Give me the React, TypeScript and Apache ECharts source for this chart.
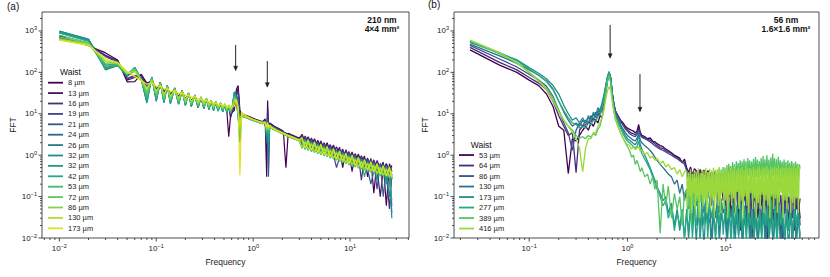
import React, { useEffect, useRef } from 'react';
import * as echarts from 'echarts';

const FONT = 'Liberation Sans, Arial, Helvetica, sans-serif';

// ---------- Panel (a) ----------
const FREQ_A = [
  0.01, 0.02, 0.03, 0.04, 0.05, 0.06, 0.07, 0.08, 0.09, 0.1, 0.11, 0.12, 0.13, 0.14, 0.155, 0.17, 0.185, 0.2, 0.215, 0.23,
  0.25, 0.27, 0.29, 0.31, 0.33, 0.35, 0.37, 0.39, 0.41, 0.435, 0.46, 0.485, 0.51, 0.535, 0.56, 0.585, 0.61,
  0.64, 0.67, 0.7, 0.73, 0.76, 0.8, 0.86, 0.93, 1.0, 1.08, 1.17, 1.26, 1.33, 1.38, 1.41, 1.44, 1.48, 1.55,
  1.65, 1.77, 1.9, 2.05, 2.18, 2.3, 2.5, 2.75, 3.0,
  3.2, 3.45, 3.7, 4.0, 4.3, 4.65, 5.0, 5.4, 5.8, 6.25, 6.75, 7.25, 7.8, 8.4, 9.05, 9.75, 10.5, 11.3, 12.2, 13.1,
  14.1, 15.2, 16.4, 17.6, 19, 20.5, 22, 23.7, 25.5, 27,
];

const A_8 = [760, 440, 295, 200, 59, 60, 90, 55, 62, 40, 50, 34, 42, 30, 36, 26, 32, 23, 28, 21, 25, 19, 22, 17, 20, 16, 18.5, 15, 17, 14, 16, 13, 15, 12, 2.8, 9, 11,
  12, 38, 48, 12, 10, 9.5, 9, 8.4, 7.8, 7.2, 6.8, 6.5, 7.5, 0.3, 21, 4, 6, 5.6, 5, 4.6, 4.2, 3.8, 0.5, 3.4, 3.1, 2.8, 2.6,
  3.2, 2.0, 2.8, 1.75, 2.5, 1.55, 2.2, 1.37, 2.0, 1.2, 1.75, 1.07, 1.55, 0.5, 1.35, 0.84, 1.2, 0.74, 1.06, 0.66, 0.95, 0.3, 0.84, 0.12, 0.75, 0.47, 0.68, 0.06, 0.62, 0.39];
const A_13 = [700, 460, 260, 190, 65, 75, 85, 50, 66, 38, 52, 33, 44, 29, 38, 26, 33, 22, 29, 20, 26, 18, 23, 17, 21, 15.5, 19, 14.5, 18, 13.5, 17, 13, 16, 12, 14, 8, 12,
  14, 32, 40, 10, 10, 9.2, 8.8, 8.2, 7.6, 7.1, 6.7, 6.4, 7, 2, 14, 3, 5.8, 5.4, 4.9, 4.5, 4.1, 3.7, 3.4, 3.3, 3.0, 2.7, 2.5,
  2.1, 2.9, 1.86, 2.6, 1.65, 2.3, 1.45, 2.0, 1.3, 1.8, 1.14, 1.6, 1.0, 1.4, 0.88, 1.23, 0.4, 1.1, 0.69, 0.97, 0.62, 0.85, 0.55, 0.77, 0.49, 0.1, 0.45, 0.63, 0.41, 0.57];
const A_16 = [650, 470, 250, 180, 70, 80, 80, 48, 68, 36, 54, 32, 45, 28, 39, 25, 34, 21, 30, 19.5, 27, 18, 24, 16.5, 22, 15.5, 20, 14.5, 18.5, 13.5, 17.5, 13, 16.5, 12.5, 15, 10, 12,
  15, 30, 35, 9, 10, 9, 8.6, 8, 7.5, 7, 6.6, 6.3, 6.8, 2.5, 11, 3.5, 5.6, 5.2, 4.8, 4.4, 4.0, 3.6, 3.3, 3.2, 2.9, 2.65, 2.45,
  3.0, 1.77, 2.65, 1.56, 2.35, 1.39, 2.05, 1.22, 1.84, 1.09, 1.62, 0.96, 1.43, 0.84, 1.26, 0.75, 1.12, 0.66, 0.99, 0.25, 0.88, 0.52, 0.78, 0.47, 0.7, 0.42, 0.63, 0.38, 0.05, 0.35];
const A_19 = [620, 460, 240, 175, 72, 85, 78, 45, 70, 34, 55, 31, 46, 27, 40, 24, 35, 20.5, 30, 19, 27, 17.5, 24, 16, 22, 15, 20, 14, 18.5, 13, 17.5, 12.5, 16.5, 12, 15.5, 10.5, 13,
  17, 30, 30, 8, 9.8, 9, 8.5, 8, 7.4, 6.9, 6.5, 6.2, 6.6, 2.8, 9, 2, 5.5, 5.1, 4.7, 4.3, 3.9, 3.6, 3.3, 3.1, 2.85, 2.6, 2.4,
  1.87, 2.7, 1.67, 2.4, 1.48, 2.1, 1.3, 1.87, 1.16, 1.66, 1.02, 0.5, 0.9, 1.29, 0.79, 1.14, 0.71, 1.01, 0.62, 0.9, 0.55, 0.79, 0.49, 0.72, 0.15, 0.64, 0.4, 0.58, 0.37, 0.53];
const A_21 = [900, 600, 150, 160, 80, 110, 72, 30, 72, 28, 56, 26, 47, 24, 41, 22, 35, 19, 31, 18, 28, 16.5, 25, 15.5, 23, 14.5, 21, 13.5, 19, 13, 18, 12, 17, 11.5, 16, 11, 14,
  22, 28, 22, 6, 9.5, 8.8, 8.4, 7.8, 7.3, 6.8, 6.4, 6.1, 6.5, 3, 7, 0.5, 5.4, 5, 4.6, 4.2, 3.8, 3.5, 3.2, 3.05, 2.8, 2.55, 2.35,
  2.75, 1.56, 2.45, 1.38, 2.2, 1.22, 1.9, 1.08, 1.7, 0.96, 1.5, 0.85, 1.33, 0.74, 1.16, 0.66, 1.04, 0.58, 0.91, 0.52, 0.81, 0.46, 0.2, 0.41, 0.65, 0.37, 0.59, 0.34, 0.54, 0.04];
const A_24 = [950, 620, 130, 155, 82, 120, 70, 25, 74, 25, 57, 23, 47, 21, 41, 19.5, 36, 17.5, 31, 16.5, 28, 15.5, 25.5, 14.5, 23, 13.5, 21, 13, 19.5, 12.5, 18, 11.5, 17, 11, 16, 10.5, 14.5,
  28, 27, 16, 4, 9.5, 8.7, 8.3, 7.7, 7.2, 6.7, 6.3, 6.0, 6.4, 2, 6.5, 0.3, 5.2, 4.9, 4.5, 4.1, 3.7, 3.4, 3.2, 3.0, 2.75, 2.5, 2.3,
  1.76, 2.5, 1.57, 2.2, 1.39, 1.96, 1.22, 1.73, 1.09, 1.54, 0.96, 1.36, 0.85, 1.19, 0.74, 1.06, 0.66, 0.94, 0.58, 0.83, 0.52, 0.73, 0.46, 0.66, 0.42, 0.59, 0.1, 0.54, 0.34, 0.06];
const A_26 = [1000, 640, 115, 150, 85, 130, 70, 20, 78, 20, 58, 19, 48, 18, 42, 17.4, 36, 16, 32, 15, 28, 14, 25, 13.3, 23, 12.6, 21, 12.2, 19.5, 11.8, 18.3, 11.3, 17, 10.8, 16, 10.4, 15,
  34, 25, 10, 2.5, 9, 8.6, 8.2, 7.6, 7.1, 6.6, 6.2, 6.0, 6.3, 2.5, 6, 1, 5.2, 4.8, 4.4, 4, 3.7, 3.4, 3.1, 2.95, 2.7, 2.5, 2.3,
  2.65, 1.46, 2.35, 1.29, 2.1, 1.14, 1.84, 1.0, 1.63, 0.9, 1.44, 0.79, 1.27, 0.69, 1.12, 0.62, 1.0, 0.55, 0.88, 0.48, 0.78, 0.43, 0.7, 0.39, 0.62, 0.34, 0.56, 0.32, 0.1, 0.29];
const A_32A = [980, 620, 118, 145, 84, 128, 68, 19, 76, 21, 57, 18.5, 48, 17.5, 42, 17, 36, 16, 31, 15, 28, 14, 25, 13.3, 23, 12.6, 21, 12, 19.5, 11.6, 18, 11.2, 17, 10.7, 16, 10.2, 15,
  33, 24, 9, 2, 9, 8.5, 8.1, 7.5, 7, 6.6, 6.2, 5.9, 6.2, 2.8, 5.8, 1.5, 5.1, 4.7, 4.3, 3.95, 3.65, 3.35, 3.1, 2.9, 2.65, 2.45, 2.25,
  1.58, 2.4, 1.41, 2.1, 1.25, 1.87, 1.1, 1.66, 0.98, 1.47, 0.86, 1.3, 0.76, 1.14, 0.67, 1.01, 0.6, 0.9, 0.53, 0.79, 0.47, 0.7, 0.42, 0.63, 0.25, 0.56, 0.34, 0.52, 0.31, 0.03];
const A_32B = [960, 600, 120, 148, 86, 132, 68, 18, 77, 21, 58, 18.5, 49, 17.5, 42, 17, 37, 16, 32, 15, 29, 14, 25.5, 13.3, 23.5, 12.6, 21.5, 12, 20, 11.6, 18.5, 11.2, 17.5, 10.7, 16.5, 10.2, 15.5,
  33, 22, 8, 2.5, 9, 8.4, 8, 7.4, 6.9, 6.5, 6.1, 5.9, 6.1, 3, 5.6, 2, 5, 4.6, 4.2, 3.9, 3.6, 3.3, 3.05, 2.9, 2.65, 2.45, 2.25,
  2.4, 1.41, 2.15, 1.25, 1.91, 1.11, 1.68, 0.98, 1.5, 0.87, 1.32, 0.77, 1.17, 0.67, 1.02, 0.6, 0.91, 0.53, 0.8, 0.47, 0.72, 0.41, 0.64, 0.37, 0.57, 0.33, 0.52, 0.2, 0.47, 0.28];
const A_42 = [900, 560, 125, 150, 88, 128, 66, 22, 76, 23, 57, 20, 48, 19, 41, 18, 36, 17, 31, 16, 28, 15, 25, 14, 23, 13, 21, 12.5, 19.5, 12, 18, 11.5, 17, 11, 16, 10.5, 15,
  30, 22, 9, 3, 9, 8.3, 7.9, 7.3, 6.8, 6.4, 6.0, 5.8, 6, 3.5, 5.5, 3, 4.9, 4.5, 4.1, 3.8, 3.5, 3.2, 3.0, 2.85, 2.6, 2.4, 2.2,
  1.5, 2.3, 1.33, 2.0, 1.18, 1.79, 1.04, 1.58, 0.92, 1.41, 0.82, 1.24, 0.72, 1.09, 0.63, 0.97, 0.56, 0.86, 0.5, 0.76, 0.3, 0.67, 0.39, 0.6, 0.35, 0.54, 0.32, 0.5, 0.29, 0.08];
const A_53 = [800, 520, 140, 155, 90, 125, 66, 25, 74, 25, 56, 21, 47, 20, 41, 19, 36, 17.5, 31, 16.5, 28, 15.5, 25, 14.5, 23, 13.5, 21, 13, 19.5, 12.5, 18, 12, 17, 11.5, 16, 11, 15,
  26, 22, 10, 3.5, 9.2, 8.4, 8, 7.4, 6.9, 6.5, 6.1, 5.8, 6, 3.8, 5.4, 3.5, 4.8, 4.5, 4.1, 3.8, 3.5, 3.2, 3.0, 2.85, 2.6, 2.4, 2.2,
  2.3, 1.37, 2.05, 1.21, 1.83, 1.08, 1.6, 0.95, 1.43, 0.84, 1.26, 0.75, 1.11, 0.65, 0.98, 0.58, 0.87, 0.51, 0.77, 0.46, 0.68, 0.4, 0.61, 0.36, 0.55, 0.32, 0.49, 0.3, 0.45, 0.27];
const A_72 = [720, 500, 160, 160, 92, 118, 66, 30, 70, 28, 54, 23, 46, 22, 40, 20, 35, 18.5, 31, 17.5, 28, 16.5, 25, 15.5, 23, 14.5, 21, 14, 19.5, 13.5, 18, 13, 17, 12.5, 16, 12, 15,
  24, 22, 11, 4, 9.5, 8.5, 8.1, 7.5, 7, 6.5, 6.1, 5.8, 6, 4, 5.4, 4, 4.8, 4.5, 4.1, 3.8, 3.5, 3.2, 3.0, 2.85, 2.6, 2.4, 2.2,
  1.45, 2.18, 1.29, 1.93, 1.15, 1.71, 1.01, 1.51, 0.9, 1.34, 0.79, 1.19, 0.7, 1.04, 0.61, 0.92, 0.55, 0.82, 0.48, 0.72, 0.43, 0.64, 0.38, 0.58, 0.34, 0.51, 0.31, 0.47, 0.28, 0.43];
const A_86 = [650, 480, 180, 165, 94, 110, 65, 36, 66, 32, 52, 26, 44, 24, 39, 22, 34, 20, 30, 18.5, 27, 17.5, 24.5, 16.5, 22.5, 15.5, 20.5, 15, 19, 14.3, 18, 13.8, 17, 13.2, 16, 12.7, 15,
  22, 22, 12, 4.5, 9.6, 8.6, 8.2, 7.6, 7.1, 6.6, 6.2, 5.9, 6.1, 4.2, 5.4, 4.2, 4.9, 4.5, 4.1, 3.8, 3.5, 3.25, 3.05, 2.9, 2.65, 2.42, 2.22,
  2.2, 1.46, 1.96, 1.29, 1.74, 1.14, 1.53, 1.01, 1.36, 0.9, 1.2, 0.79, 1.06, 0.69, 0.93, 0.62, 0.83, 0.55, 0.73, 0.48, 0.65, 0.43, 0.58, 0.39, 0.52, 0.34, 0.47, 0.32, 0.43, 0.29];
const A_130 = [620, 470, 190, 168, 96, 104, 65, 42, 63, 36, 50, 30, 42, 27, 37, 24, 32, 22, 29, 20, 26, 18.5, 23.5, 17.5, 21.5, 16.5, 20, 15.5, 18.5, 14.8, 17.5, 14.2, 16.5, 13.6, 15.5, 13, 14.5,
  20, 22, 13, 5, 9.8, 8.7, 8.3, 7.7, 7.2, 6.7, 6.3, 6.0, 6.2, 4.5, 5.5, 4.5, 5.0, 4.6, 4.2, 3.85, 3.55, 3.3, 3.1, 2.92, 2.7, 2.45, 2.25,
  1.58, 2.08, 1.41, 1.84, 1.25, 1.63, 1.1, 1.44, 0.98, 1.28, 0.86, 1.13, 0.76, 0.99, 0.67, 0.88, 0.6, 0.78, 0.53, 0.69, 0.47, 0.61, 0.42, 0.55, 0.37, 0.49, 0.34, 0.45, 0.31, 0.41];
const A_173 = [600, 450, 210, 175, 105, 80, 64, 52, 56, 46, 47, 40, 41, 35, 36, 31, 32, 28, 28.5, 25, 26, 23, 23.5, 21, 21.5, 19.5, 20, 18, 18.5, 17, 17.5, 16, 16.5, 15.2, 15.5, 14.5, 14.8,
  15, 22, 15, 0.33, 11, 9.5, 8.8, 8.0, 7.4, 6.9, 6.5, 6.2, 6.4, 4.8, 6.2, 4.8, 5.3, 4.8, 4.4, 4.0, 3.7, 3.4, 3.2, 3.0, 2.8, 2.55, 2.35,
  2.65, 1.5, 2.35, 1.32, 2.1, 1.17, 1.84, 1.04, 1.63, 0.92, 1.44, 0.81, 1.27, 0.71, 1.12, 0.63, 1.0, 0.56, 0.88, 0.5, 0.78, 0.44, 0.7, 0.4, 0.62, 0.35, 0.56, 0.32, 0.52, 0.3];

const A_VALUES = [A_8, A_13, A_16, A_19, A_21, A_24, A_26, A_32A, A_32B, A_42, A_53, A_72, A_86, A_130, A_173];
const A_LABELS = ['8 µm', '13 µm', '16 µm', '19 µm', '21 µm', '24 µm', '26 µm', '32 µm', '32 µm', '42 µm', '53 µm', '72 µm', '86 µm', '130 µm', '173 µm'];
const A_COLORS = ['#440154', '#471365', '#46307c', '#404588', '#39578c', '#33638d', '#297a8e', '#238b8c', '#219b88', '#25ab82', '#3fbc73', '#5ec962', '#84d44b', '#b0dd2f', '#dde318'];

// ---------- Panel (b) ----------
const FREQ_B_LOWMID = [
  0.025, 0.05, 0.075, 0.1, 0.125, 0.15, 0.175, 0.2, 0.225, 0.25, 0.275, 0.3, 0.325, 0.35, 0.375, 0.4, 0.425, 0.45, 0.475, 0.5,
  0.525, 0.55, 0.575, 0.6, 0.625, 0.65, 0.675, 0.7, 0.725, 0.75, 0.8, 0.85, 0.9, 0.95, 1.0,
  1.05, 1.1, 1.15, 1.2, 1.25, 1.3, 1.35, 1.4, 1.5, 1.6, 1.7, 1.8, 1.9, 2.0, 2.15, 2.3, 2.45, 2.6, 2.8, 3.0, 3.2, 3.4, 3.6, 3.8,
];
const FREQ_B_HIGH = [
  4.0, 4.18, 4.38, 4.58, 4.79, 5.01, 5.24, 5.48, 5.73, 6.0, 6.27, 6.56, 6.87, 7.18, 7.51, 7.86, 8.22, 8.6, 9.0, 9.41,
  9.85, 10.3, 10.8, 11.3, 11.8, 12.3, 12.9, 13.5, 14.1, 14.8, 15.4, 16.2, 16.9, 17.7, 18.5, 19.4, 20.2, 21.2, 22.2, 23.2,
  24.2, 25.3, 26.5, 27.7, 29.0, 30.3, 31.7, 33.2, 34.7, 36.3, 38.0, 39.7, 41.6, 43.5, 45.5, 47.6, 49.8, 52.1, 54.5, 57.0,
];
const FREQ_B_HIGH_FINE = [
  4.0, 4.09, 4.18, 4.28, 4.38, 4.48, 4.58, 4.68, 4.79, 4.9, 5.01, 5.12, 5.24, 5.36, 5.48, 5.6, 5.73, 5.86, 5.99, 6.13,
  6.27, 6.41, 6.55, 6.7, 6.85, 7.01, 7.17, 7.33, 7.49, 7.66, 7.84, 8.01, 8.19, 8.38, 8.57, 8.76, 8.96, 9.16, 9.37, 9.58,
  9.8, 10.0, 10.25, 10.48, 10.72, 10.96, 11.2, 11.46, 11.72, 11.98, 12.25, 12.53, 12.81, 13.1, 13.4, 13.7, 14.0, 14.33, 14.65, 14.98,
  15.32, 15.67, 16.02, 16.38, 16.75, 17.13, 17.52, 17.91, 18.32, 18.73, 19.15, 19.59, 20.03, 20.48, 20.94, 21.42, 21.9, 22.4, 22.9, 23.42,
  23.95, 24.49, 25.04, 25.61, 26.19, 26.78, 27.38, 28.0, 28.64, 29.28, 29.95, 30.62, 31.31, 32.02, 32.74, 33.48, 34.24, 35.01, 35.8, 36.61,
  37.44, 38.28, 39.15, 40.03, 40.94, 41.86, 42.8, 43.77, 44.76, 45.77, 46.8, 47.86, 48.94, 50.05, 51.18, 52.33, 53.51, 54.72, 55.96, 57.0,
];
const FREQ_B = [...FREQ_B_LOWMID, ...FREQ_B_HIGH];
const FREQ_B_DENSE = [...FREQ_B_LOWMID, ...FREQ_B_HIGH_FINE];

const B_53 = [350, 150, 100, 65, 48, 30, 15, 5, 4, 0.36, 2.5, 2.2, 3, 4, 5, 4, 6, 5, 7, 6, 9, 8, 14, 30, 60, 95, 70, 30, 18, 12, 9, 7, 6, 5, 4.5,
  4.2, 4, 3.8, 3.5, 3.8, 5.5, 3.5, 3.0, 2.8, 2.5, 2.6, 2.2, 2.1, 1.9, 1.7, 1.6, 1.4, 1.3, 1.15, 1.0, 0.92, 0.85, 0.65, 0.8,
  0.5, 0.38, 0.52, 0.3, 0.47, 0.42, 0.25, 0.45, 0.36, 0.44, 0.3, 0.42, 0.38, 0.2, 0.4, 0.33, 0.12, 0.36,
  0.28, 0.08, 0.3, 0.15, 0.26, 0.04, 0.25, 0.12, 0.22, 0.02, 0.2, 0.1, 0.24, 0.05, 0.18, 0.012, 0.2, 0.08, 0.16, 0.03, 0.18, 0.06, 0.15, 0.008, 0.14, 0.05, 0.16, 0.02, 0.13, 0.07, 0.15, 0.01, 0.12, 0.04, 0.14, 0.02, 0.11, 0.006, 0.12, 0.05, 0.1, 0.03];
const B_64 = [400, 175, 115, 75, 55, 38, 20, 9, 5, 3, 3.5, 0.38, 4, 5, 5.5, 6, 6.5, 7.5, 7, 9, 10, 12, 17, 36, 66, 98, 72, 32, 18, 12, 8.5, 6.5, 5.5, 4.6, 4,
  3.7, 3.4, 3.3, 3.1, 3.5, 4.5, 3.2, 2.9, 2.6, 2.4, 2.3, 2.1, 1.9, 1.7, 1.5, 1.45, 1.3, 1.2, 1.1, 0.95, 0.88, 0.78, 0.7, 0.68,
  0.45, 0.3, 0.48, 0.35, 0.25, 0.42, 0.32, 0.44, 0.2, 0.4, 0.3, 0.38, 0.15, 0.36, 0.27, 0.34, 0.08, 0.32,
  0.2, 0.3, 0.05, 0.26, 0.14, 0.24, 0.03, 0.22, 0.1, 0.2, 0.015, 0.2, 0.08, 0.17, 0.04, 0.18, 0.01, 0.16, 0.06, 0.15, 0.025, 0.16, 0.07, 0.13, 0.006, 0.14, 0.04, 0.12, 0.02, 0.13, 0.05, 0.11, 0.008, 0.12, 0.03, 0.1, 0.05, 0.11, 0.015, 0.1, 0.04, 0.09];
const B_86 = [450, 210, 135, 90, 65, 46, 26, 12, 6, 3.5, 1.3, 4, 6, 5, 7, 6, 9, 7, 11, 9, 13, 15, 22, 42, 72, 100, 74, 32, 18, 12, 8.5, 6.5, 5.3, 4.3, 3.8,
  3.3, 3.1, 2.9, 2.8, 3.2, 4, 3.0, 2.7, 2.5, 2.3, 2.1, 1.9, 1.7, 1.55, 1.4, 1.3, 1.2, 1.1, 1.0, 0.9, 0.82, 0.74, 0.68, 0.6,
  0.42, 0.25, 0.4, 0.2, 0.38, 0.3, 0.15, 0.35, 0.28, 0.1, 0.33, 0.22, 0.3, 0.06, 0.28, 0.18, 0.26, 0.04,
  0.24, 0.12, 0.22, 0.02, 0.2, 0.1, 0.18, 0.04, 0.19, 0.012, 0.16, 0.08, 0.17, 0.03, 0.15, 0.06, 0.14, 0.008, 0.15, 0.05, 0.13, 0.02, 0.14, 0.06, 0.12, 0.01, 0.13, 0.04, 0.11, 0.02, 0.12, 0.005, 0.1, 0.04, 0.11, 0.015, 0.1, 0.03, 0.09, 0.006, 0.1, 0.02];
const B_130 = [480, 250, 165, 115, 85, 62, 40, 20, 11, 7, 5, 6, 5, 7, 6, 8, 7, 10, 8, 12, 11, 16, 25, 45, 75, 100, 72, 30, 16, 11, 7.5, 5.5, 4.3, 3.5, 3.0,
  2.7, 2.5, 2.3, 2.2, 2.6, 3.4, 2.3, 2.0, 1.7, 1.5, 1.3, 1.1, 0.9, 0.75, 0.6, 0.5, 0.42, 0.35, 0.3, 0.2, 0.25, 0.12, 0.2, 0.08,
  0.15, 0.05, 0.14, 0.02, 0.12, 0.06, 0.1, 0.01, 0.12, 0.04, 0.09, 0.02, 0.1, 0.006, 0.08, 0.03, 0.09, 0.015,
  0.08, 0.04, 0.06, 0.008, 0.07, 0.03, 0.08, 0.012, 0.06, 0.025, 0.07, 0.005, 0.06, 0.02, 0.07, 0.01, 0.05, 0.03, 0.06, 0.007, 0.05, 0.02, 0.06, 0.01, 0.05, 0.025, 0.06, 0.006, 0.05, 0.015, 0.045, 0.03, 0.05, 0.008, 0.045, 0.02, 0.05, 0.01, 0.04, 0.025, 0.05, 0.006];
const B_173 = [530, 290, 200, 130, 95, 70, 48, 30, 16, 10, 7, 8, 6, 8, 6, 9, 7, 11, 9, 14, 12, 18, 28, 48, 78, 105, 70, 28, 15, 10, 7, 5, 3.8, 3.0, 2.5,
  2.3, 2.1, 1.9, 1.8, 2.1, 3.0, 1.8, 1.4, 1.0, 0.7, 0.5, 0.35, 0.25, 0.17, 0.12, 0.08, 0.1, 0.04, 0.07, 0.02, 0.05, 0.015, 0.04, 0.01,
  0.05, 0.01, 0.04, 0.02, 0.06, 0.008, 0.05, 0.015, 0.04, 0.006, 0.05, 0.02, 0.03, 0.005, 0.04, 0.012, 0.05, 0.008,
  0.04, 0.02, 0.035, 0.006, 0.04, 0.015, 0.05, 0.005, 0.035, 0.012, 0.04, 0.008, 0.03, 0.015, 0.04, 0.005, 0.03, 0.01, 0.035, 0.006, 0.03, 0.012, 0.04, 0.005, 0.03, 0.015, 0.035, 0.007, 0.03, 0.012, 0.04, 0.005, 0.03, 0.01, 0.035, 0.006, 0.03, 0.015, 0.04, 0.008, 0.03, 0.012];
const B_277 = [560, 300, 190, 120, 85, 60, 38, 20, 12, 8, 6, 5.5, 4.5, 5, 4.5, 6, 5.5, 7, 6.5, 9, 9, 14, 22, 42, 75, 100, 68, 26, 14, 9, 6, 4.5, 3.3, 2.6, 2.2,
  2.0, 1.8, 1.6, 1.5, 1.6, 2.2, 1.4, 1.1, 0.8, 0.6, 0.45, 0.3, 0.22, 0.15, 0.1, 0.06, 0.08, 0.03, 0.06, 0.015, 0.04, 0.02, 0.05, 0.01,
  0.04, 0.015, 0.06, 0.01, 0.05, 0.02, 0.08, 0.008, 0.06, 0.02, 0.1, 0.01, 0.08, 0.03, 0.06, 0.008, 0.07, 0.02,
  0.09, 0.012, 0.06, 0.025, 0.08, 0.006, 0.07, 0.02, 0.06, 0.01, 0.08, 0.015, 0.06, 0.008, 0.07, 0.02, 0.05, 0.01, 0.06, 0.015, 0.05, 0.008, 0.07, 0.02, 0.06, 0.01, 0.08, 0.015, 0.06, 0.006, 0.07, 0.02, 0.05, 0.01, 0.06, 0.015, 0.05, 0.008, 0.06, 0.02, 0.05, 0.01];
// 389 and 416 µm use the dense frequency grid
const B_389 = [580, 280, 170, 100, 65, 42, 24, 12, 7, 5, 4, 3, 2.6, 2.8, 2.5, 3, 2.7, 3.4, 3, 4.2, 5, 8, 14, 30, 60, 85, 55, 22, 12, 7.5, 5, 3.5, 2.6, 2.0, 1.6,
  1.3, 0.9, 1.0, 0.6, 0.75, 0.55, 0.4, 0.5, 0.3, 0.35, 0.2, 0.3, 0.15, 0.25, 0.013, 0.2, 0.06, 0.18, 0.03, 0.12, 0.05, 0.1, 0.02, 0.12,
  0.15, 0.03, 0.18, 0.05, 0.22, 0.02, 0.2, 0.06, 0.25, 0.03, 0.28, 0.08, 0.24, 0.04, 0.3, 0.07, 0.27, 0.05, 0.33, 0.1,
  0.3, 0.06, 0.36, 0.09, 0.32, 0.12, 0.4, 0.08, 0.37, 0.14, 0.44, 0.1, 0.4, 0.15, 0.48, 0.12, 0.45, 0.18, 0.52, 0.14,
  0.5, 0.2, 0.58, 0.16, 0.62, 0.22, 0.55, 0.18, 0.68, 0.25, 0.6, 0.2, 0.72, 0.28, 0.65, 0.22, 0.75, 0.3, 0.7, 0.24,
  0.8, 0.28, 0.72, 0.22, 0.85, 0.32, 0.75, 0.26, 0.7, 0.3, 0.82, 0.24, 0.9, 0.3, 0.78, 0.26, 0.72, 0.32, 0.85, 0.25,
  0.95, 0.3, 0.8, 0.27, 1.0, 0.33, 0.78, 0.25, 0.88, 0.3, 1.1, 0.32, 0.85, 0.26, 0.8, 0.3, 0.92, 0.28, 0.75, 0.32,
  0.7, 0.26, 0.78, 0.3, 0.68, 0.24, 0.75, 0.3, 0.66, 0.28, 0.72, 0.3, 0.64, 0.26, 0.7, 0.32, 0.62, 0.28, 0.6, 0.5];
const B_416 = [600, 300, 170, 100, 60, 38, 20, 11, 7, 5, 3.5, 2.5, 1.5, 0.4, 1.5, 2.5, 2.5, 3.5, 3.5, 5, 6, 8, 12, 22, 36, 45, 38, 20, 12, 8, 5, 3.5, 2.6, 2.1, 1.8,
  1.7, 1.4, 1.6, 1.35, 1.5, 1.6, 1.25, 1.35, 1.05, 1.15, 0.85, 0.95, 0.75, 0.85, 0.62, 0.72, 0.52, 0.6, 0.45, 0.5, 0.35, 0.45, 0.3, 0.4,
  0.42, 0.06, 0.38, 0.1, 0.46, 0.04, 0.35, 0.12, 0.44, 0.05, 0.4, 0.09, 0.48, 0.03, 0.37, 0.11, 0.45, 0.06, 0.42, 0.08,
  0.5, 0.04, 0.39, 0.13, 0.47, 0.05, 0.43, 0.09, 0.5, 0.03, 0.41, 0.1, 0.46, 0.06, 0.52, 0.04, 0.4, 0.12, 0.48, 0.05,
  0.44, 0.08, 0.53, 0.03, 0.42, 0.11, 0.49, 0.06, 0.45, 0.09, 0.55, 0.04, 0.43, 0.13, 0.5, 0.05, 0.47, 0.08, 0.52, 0.03,
  0.44, 0.1, 0.56, 0.06, 0.48, 0.04, 0.5, 0.12, 0.46, 0.05, 0.53, 0.09, 0.45, 0.03, 0.51, 0.07, 0.55, 0.05, 0.47, 0.11,
  0.52, 0.04, 0.49, 0.08, 0.56, 0.06, 0.46, 0.03, 0.53, 0.1, 0.48, 0.05, 0.55, 0.09, 0.5, 0.04, 0.57, 0.07, 0.47, 0.12,
  0.53, 0.03, 0.5, 0.08, 0.56, 0.05, 0.48, 0.1, 0.54, 0.04, 0.5, 0.07, 0.57, 0.05, 0.49, 0.09, 0.55, 0.04, 0.52, 0.45];

const B_VALUES = [B_53, B_64, B_86, B_130, B_173, B_277, B_389, B_416];
const B_FREQS = [FREQ_B, FREQ_B, FREQ_B, FREQ_B, FREQ_B, FREQ_B, FREQ_B_DENSE, FREQ_B_DENSE];
const B_LABELS = ['53 µm', '64 µm', '86 µm', '130 µm', '173 µm', '277 µm', '389 µm', '416 µm'];
const B_COLORS = ['#440154', '#472b79', '#3c508a', '#2e6f8e', '#228d8c', '#24aa83', '#54c467', '#9bd83b'];

// arrows: [frequency, top FFT value, tip FFT value]
const ARROWS_A = [[0.66, 460, 110], [1.4, 188, 44]];
const ARROWS_B = [[0.666, 1400, 220], [1.34, 91, 11.2]];

// axis ticks
const X_MAJOR_A = [0.01, 0.1, 1, 10];
const X_MINOR_A = [0.007, 0.008, 0.009, 0.02, 0.03, 0.04, 0.05, 0.06, 0.07, 0.08, 0.09, 0.2, 0.3, 0.4, 0.5, 0.6, 0.7, 0.8, 0.9, 2, 3, 4, 5, 6, 7, 8, 9, 20, 30, 40];
const X_MAJOR_B = [0.1, 1, 10];
const X_MINOR_B = [0.02, 0.03, 0.04, 0.05, 0.06, 0.07, 0.08, 0.09, 0.2, 0.3, 0.4, 0.5, 0.6, 0.7, 0.8, 0.9, 2, 3, 4, 5, 6, 7, 8, 9, 20, 30, 40, 50, 60, 70, 80];
const Y_MAJOR = [0.01, 0.1, 1, 10, 100, 1000];
const Y_MINOR = [0.02, 0.03, 0.04, 0.05, 0.06, 0.07, 0.08, 0.09, 0.2, 0.3, 0.4, 0.5, 0.6, 0.7, 0.8, 0.9, 2, 3, 4, 5, 6, 7, 8, 9,
  20, 30, 40, 50, 60, 70, 80, 90, 200, 300, 400, 500, 600, 700, 800, 900, 2000];

const AXIS_A = { xMin: 0.00662, xMax: 40.6 };
const AXIS_B = { xMin: 0.0172, xMax: 88.7 };
const Y_RANGE = { min: 0.01, max: 2870 };

function pairs(freq: number[], vals: number[]) {
  const n = Math.min(freq.length, vals.length);
  const out: number[][] = [];
  for (let i = 0; i < n; i++) out.push([freq[i], vals[i]]);
  return out;
}

function powLabel(v: number) {
  const e = Math.log10(v);
  const r = Math.round(e);
  if (Math.abs(e - r) > 1e-6) return '';
  const s = r < 0 ? '\u2212' + -r : String(r);
  return `{n|10}{s|${s}}`;
}

const TICK_COLOR = '#222';
const MAJ = 3.5;
const MIN = 2;

function xTicks(gi: number, major: number[], minor: number[]) {
  const data = [...major.map((v) => [v, 1, MAJ]), ...minor.map((v) => [v, 1, MIN])];
  return {
    type: 'custom', xAxisIndex: gi, yAxisIndex: gi, silent: true, z: 10, clip: false,
    encode: { x: 0, y: 1 },
    data,
    renderItem: (params: any, api: any) => {
      const cs = params.coordSys;
      const p = api.coord([api.value(0), api.value(1)]);
      const len = api.value(2);
      const yb = cs.y + cs.height;
      return { type: 'line', shape: { x1: p[0], y1: yb, x2: p[0], y2: yb + len }, style: { stroke: TICK_COLOR, lineWidth: 0.8 } };
    },
  };
}
function yTicks(gi: number, major: number[], minor: number[]) {
  const data = [...major.map((v) => [1, v, MAJ]), ...minor.map((v) => [1, v, MIN])];
  return {
    type: 'custom', xAxisIndex: gi, yAxisIndex: gi, silent: true, z: 10, clip: false,
    encode: { x: 0, y: 1 },
    data,
    renderItem: (params: any, api: any) => {
      const cs = params.coordSys;
      const p = api.coord([api.value(0), api.value(1)]);
      const len = api.value(2);
      return { type: 'line', shape: { x1: cs.x, y1: p[1], x2: cs.x - len, y2: p[1] }, style: { stroke: TICK_COLOR, lineWidth: 0.8 } };
    },
  };
}
function arrows(gi: number, data: number[][]) {
  return {
    type: 'custom', xAxisIndex: gi, yAxisIndex: gi, silent: true, z: 12, clip: false,
    encode: { x: 0, y: [1, 2] },
    data,
    renderItem: (_params: any, api: any) => {
      const a = api.coord([api.value(0), api.value(1)]);
      const b = api.coord([api.value(0), api.value(2)]);
      return {
        type: 'group',
        children: [
          { type: 'line', shape: { x1: a[0], y1: a[1], x2: b[0], y2: b[1] - 1 }, style: { stroke: '#222', lineWidth: 1 } },
          { type: 'polygon', shape: { points: [[b[0] - 2, b[1] - 4.5], [b[0], b[1]], [b[0] + 2, b[1] - 4.5]] }, style: { fill: '#222', stroke: '#222', lineWidth: 0.5 } },
        ],
      };
    },
  };
}

function lineSeries(prefix: string, gi: number, freqs: number[][], values: number[][], labels: string[], colors: string[], width: number) {
  return values.map((vals, i) => ({
    type: 'line',
    name: `${prefix}${i}|${labels[i]}`,
    xAxisIndex: gi, yAxisIndex: gi,
    data: pairs(freqs[i], vals),
    symbol: 'none', showSymbol: false, silent: true, z: 2,
    lineStyle: { width, color: colors[i] },
    itemStyle: { color: colors[i] },
    emphasis: { disabled: true },
  }));
}

function axisLabelStyle() {
  return {
    formatter: powLabel, color: '#222', fontFamily: FONT, fontSize: 8, margin: 5,
    rich: {
      n: { fontSize: 8, lineHeight: 11, fontFamily: FONT, color: '#222' },
      s: { fontSize: 5.6, lineHeight: 5, verticalAlign: 'top', fontFamily: FONT, color: '#222' },
    },
  };
}

function xAxis(gi: number, min: number, max: number) {
  return {
    type: 'log', gridIndex: gi, min, max, logBase: 10,
    axisLine: { show: false }, axisTick: { show: false }, splitLine: { show: false }, minorTick: { show: false },
    axisLabel: axisLabelStyle(),
    name: 'Frequency', nameLocation: 'middle', nameGap: 19,
    nameTextStyle: { fontSize: 8.5, color: '#222', fontFamily: FONT },
  };
}
function yAxis(gi: number) {
  return {
    type: 'log', gridIndex: gi, min: Y_RANGE.min, max: Y_RANGE.max, logBase: 10,
    axisLine: { show: false }, axisTick: { show: false }, splitLine: { show: false }, minorTick: { show: false },
    axisLabel: axisLabelStyle(),
    name: 'FFT', nameLocation: 'middle', nameGap: 25,
    nameTextStyle: { fontSize: 8.5, color: '#222', fontFamily: FONT },
  };
}

function legend(prefix: string, labels: string[], left: number, top: number, step: number) {
  return {
    orient: 'vertical', left, top, padding: 0, itemGap: 0,
    itemWidth: 15, itemHeight: 1.8, icon: 'rect', selectedMode: false,
    data: labels.map((l, i) => `${prefix}${i}|${l}`),
    formatter: (n: string) => n.split('|')[1],
    textStyle: { fontSize: 7.5, lineHeight: step, color: '#222', fontFamily: FONT },
  };
}

function txt(text: string, x: number, y: number, font: string, align = 'left') {
  return {
    type: 'text', x, y, silent: true,
    style: { text, font, fill: '#111', align, verticalAlign: 'middle', textAlign: align, textVerticalAlign: 'middle' },
  };
}

export default function App() {
  const ref = useRef<HTMLDivElement>(null);
  useEffect(() => {
    const chart = echarts.init(ref.current!, undefined, { renderer: 'svg' });
    const A_FREQS = A_VALUES.map(() => FREQ_A);
    const option: any = {
      animation: false,
      backgroundColor: '#fff',
      textStyle: { fontFamily: FONT },
      grid: [
        { left: 42, top: 12, width: 367, height: 226, show: true, borderColor: '#222', borderWidth: 0.8, backgroundColor: 'transparent', containLabel: false, outerBoundsMode: 'none' },
        { left: 454, top: 12, width: 365, height: 226, show: true, borderColor: '#222', borderWidth: 0.8, backgroundColor: 'transparent', containLabel: false, outerBoundsMode: 'none' },
      ],
      xAxis: [xAxis(0, AXIS_A.xMin, AXIS_A.xMax), xAxis(1, AXIS_B.xMin, AXIS_B.xMax)],
      yAxis: [yAxis(0), yAxis(1)],
      legend: [legend('A', A_LABELS, 48, 77.5, 10.4), legend('B', B_LABELS, 459, 149.8, 10.5)],
      series: [
        ...lineSeries('A', 0, A_FREQS, A_VALUES, A_LABELS, A_COLORS, 1.2),
        ...lineSeries('B', 1, B_FREQS, B_VALUES, B_LABELS, B_COLORS, 1.3),
        xTicks(0, X_MAJOR_A, X_MINOR_A), yTicks(0, Y_MAJOR, Y_MINOR),
        xTicks(1, X_MAJOR_B, X_MINOR_B), yTicks(1, Y_MAJOR, Y_MINOR),
        arrows(0, ARROWS_A), arrows(1, ARROWS_B),
      ],
      graphic: [
        txt('(a)', 7, 6, `10px ${FONT}`),
        txt('(b)', 428, 4.5, `10px ${FONT}`),
        txt('210 nm', 382, 19.5, `bold 8.5px ${FONT}`, 'center'),
        txt('4×4 mm²', 382, 28.5, `bold 8.5px ${FONT}`, 'center'),
        txt('56 nm', 786, 19.5, `bold 8.5px ${FONT}`, 'center'),
        txt('1.6×1.6 mm²', 786, 28.5, `bold 8.5px ${FONT}`, 'center'),
        txt('Waist', 60, 71.5, `8.5px ${FONT}`),
        txt('Waist', 470.7, 144.5, `8.5px ${FONT}`),
      ],
    };
    chart.setOption(option);
    return () => chart.dispose();
  }, []);
  return <div ref={ref} style={{ position: 'absolute', left: 0, top: 0, width: 830, height: 277 }} />;
}
